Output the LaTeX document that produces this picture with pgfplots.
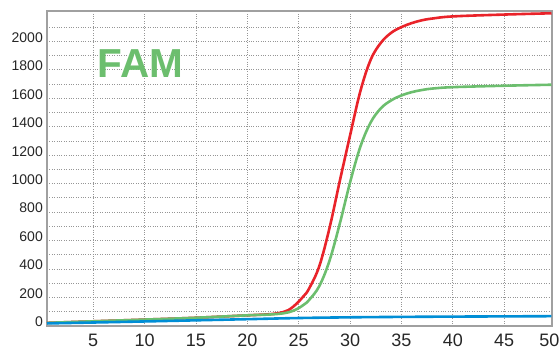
\documentclass[border=0pt]{standalone}
\usepackage{pgfplots}
\pgfplotsset{compat=1.18}
\usepackage{fontspec}
\setmainfont{Liberation Sans}
\definecolor{cred}{RGB}{233,35,42}
\definecolor{cgreen}{RGB}{108,190,110}
\definecolor{cblue}{RGB}{0,142,214}
\definecolor{cgrid}{RGB}{150,150,150}
\definecolor{cframe}{RGB}{160,160,160}

\pgfplotstableread{
x y
0.5 22
5 33
10 45
15 58
20 75
22 82
23 90
23.5 98
24 112
24.5 138
25 172
25.5 212
26 262
27 420
28 690
29 1020
30 1340
31 1650
32 1870
33 1990
34 2060
35 2100
36 2128
37 2148
38 2160
40 2175
45 2188
49.6 2197
}\redtab

\pgfplotstableread{
x y
0.5 22
5 33
10 45
15 58
20 75
22 80
23 85
23.5 89
24 96
24.5 108
25 126
25.5 150
26 182
27 280
28 460
29 720
30 1010
31 1260
32 1430
33 1530
34 1585
35 1620
36 1643
37 1658
38 1668
40 1678
45 1688
49.6 1695
}\greentab

\pgfplotstableread{
x y
0.5 18
10 32
20 48
25 56
30 61
35 64
40 66
49.6 69
}\bluetab

\begin{document}
\begin{tikzpicture}
\path[use as bounding box] (-47pt,-25pt) rectangle (513pt,326pt);
\begin{axis}[
  at={(0pt,0pt)}, anchor=south west,
  scale only axis, width=505pt, height=315pt,
  xmin=0.5, xmax=49.65, ymin=0, ymax=2213,
  xtick={5,10,...,45},
  ytick={0,200,...,2000},
  minor ytick={100,300,...,2100},
  grid=both,
  major grid style={cgrid, dotted, line width=0.8pt},
  minor grid style={cgrid, dotted, line width=0.8pt},
  major tick length=0pt, minor tick length=0pt,
  tick style={draw=none},
  axis line style={cframe, line width=1.5pt},
  /pgf/number format/assume math mode=true,
  /pgf/number format/1000 sep={},
  yticklabel style={font=\fontsize{14}{14}\selectfont, text=black!85, inner sep=0pt, anchor=east, xshift=-4pt, yshift=4pt},
  xticklabel style={font=\fontsize{18}{18}\selectfont, text=black!85, inner sep=0pt, anchor=north, yshift=-8pt},
  extra x ticks={49.4},
  extra x tick labels={50},
  extra x tick style={grid=none},
]
\addplot[cred, line width=2.6pt, smooth, tension=0.6] table[x=x,y=y] {\redtab};
\addplot[cgreen, line width=2.6pt, smooth, tension=0.6] table[x=x,y=y] {\greentab};
\addplot[cblue, line width=2.6pt, smooth, tension=0.6] table[x=x,y=y] {\bluetab};
\node[anchor=base west, inner sep=0pt, text=cgreen, font=\fontsize{40.5}{41}\selectfont\bfseries] at (rel axis cs:0.1,0.7895) {FAM};
\end{axis}
\end{tikzpicture}
\end{document}
